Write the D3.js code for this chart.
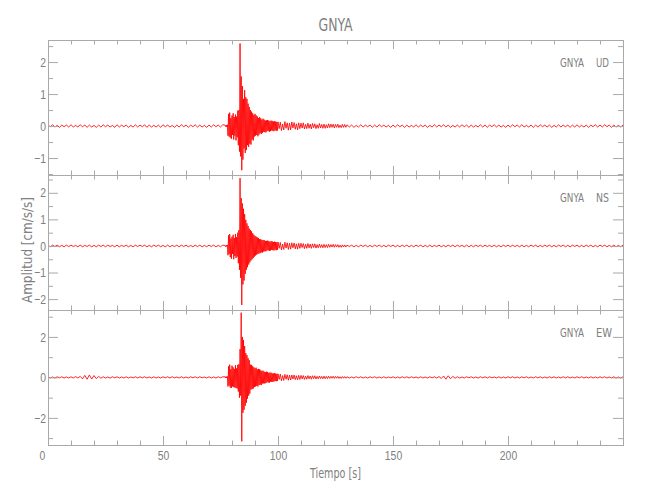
<!DOCTYPE html>
<html><head><meta charset="utf-8">
<script src="https://cdn.jsdelivr.net/npm/d3@7"></script>
<style>
html,body{margin:0;padding:0;background:#fff;}
svg{display:block;font-family:"DejaVu Sans Condensed","Liberation Sans Narrow","Liberation Sans",sans-serif;}
</style></head><body>
<svg id="chart" width="650" height="500"></svg>
<script>
// ---------------- DATA ----------------
const station = "GNYA";
const components = ["UD", "NS", "EW"];
const xLabel = "Tiempo [s]";
const yLabel = "Amplitud [cm/s/s]";
const xMajorTicks = [0, 50, 100, 150, 200];
const xMinorTicks = [10,20,30,40,60,70,80,90,110,120,130,140,160,170,180,190,210,220,230,240];
const xDomain = [0, 250];

const udMajor = [-1, 0, 1, 2], udMinor = [-1.5, -0.5, 0.5, 1.5, 2.5], udDomain = [-1.53, 2.69];
const nsMajor = [-2, -1, 0, 1, 2], nsMinor = [-1.5, -0.5, 0.5, 1.5, 2.5], nsDomain = [-2.41, 2.67];
const ewMajor = [-2, 0, 2], ewMinor = [-3, -1, 1, 3], ewDomain = [-3.34, 3.33];

// sampling of the segments (start time s, step s)
const preStart = 0, preStep = 1;
const eventStart = 77, eventStep = 0.25;
const tailStart = 100, tailStep = 0.5;
const postStart = 130, postStep = 1;

// ---- UD (cm/s/s)
const udPre = [.03,-.02,.04,-.03,.02,-.04,.03,-.02,.03,-.03,
  .04,-.03,.02,-.03,.04,-.02,.03,-.04,.03,-.03,
  .02,-.04,.03,-.03,.04,-.02,.03,-.03,.02,-.04,
  .04,-.03,.03,-.02,.03,-.04,.02,-.03,.04,-.03,
  .03,-.02,.04,-.04,.03,-.03,.02,-.03,.03,-.04,
  .04,-.02,.03,-.03,.02,-.04,.03,-.03,.04,-.02,
  .03,-.04,.03,-.02,.04,-.03,.03,-.03,.02,-.04,
  .03,-.03,.04,-.02,.03,-.03,.04];
const udEvent = [.03,-.02,.03,-.03,.04,-.30,.38,-.33,.42,-.36,.25,-.40,.33,-.28,.40,-.42,.28,-.30,.36,-.45,.30,-.35,.48,-.60,.50,-.80,
  2.58,-.95,1.55,-1.38,1.25,-1.05,.85,-.70,1.12,-.84,.90,-.75,.85,-.60,.70,-.65,.60,-.55,.50,-.58,.45,-.42,.40,-.45,.35,-.33,
  .38,-.30,.33,-.28,.30,-.32,.25,-.27,.28,-.22,.24,-.25,.20,-.22,.23,-.18,.20,-.19,.17,-.20,
  .18,-.16,.19,-.15,.17,-.18,.15,-.16,.17,-.14,.16,-.15,.14,-.16,.15,-.13,.14,-.15,.13,-.14];
const udTail = [.13,-.08,.12,-.14,.06,-.12,.14,-.07,.10,-.13,
  .09,-.12,.13,-.06,.11,-.10,.07,-.12,.10,-.08,
  .09,-.06,.10,-.09,.05,-.08,.09,-.07,.06,-.09,
  .08,-.05,.07,-.08,.04,-.07,.08,-.06,.05,-.07,
  .06,-.07,.04,-.06,.07,-.05,.06,-.04,.06,-.06,
  .05,-.04,.06,-.05,.03,-.05,.05,-.04,.05,-.04];
const udPost = [.04,-.03,.03,-.04,.02,-.03,.04,-.03,.03,-.02,
  .03,-.04,.03,-.03,.04,-.02,.03,-.03,.02,-.04,
  .03,-.03,.04,-.02,.03,-.04,.03,-.03,.02,-.03,
  .04,-.03,.03,-.02,.03,-.04,.02,-.03,.04,-.03,
  .03,-.02,.04,-.03,.03,-.04,.02,-.03,.03,-.03,
  .04,-.02,.03,-.04,.03,-.03,.02,-.03,.04,-.03,
  .03,-.04,.03,-.02,.04,-.03,.03,-.03,.02,-.04,
  .03,-.03,.04,-.02,.03,-.03,.04,-.03,.02,-.03,
  .03,-.04,.03,-.03,.04,-.02,.03,-.03,.03,-.04,
  .02,-.03,.04,-.03,.03,-.02,.03,-.04,.03,-.03,
  .04,-.03,.02,-.03,.03,-.04,.03,-.02,.04,-.03,
  .03,-.03,.04,-.02,.03,-.04,.03,-.03,.02,-.03,
  .03];

// ---- NS (cm/s/s)
const nsPre = [.02,-.03,.03,-.02,.03,-.03,.02,-.03,.03,-.02,
  .03,-.02,.02,-.03,.03,-.03,.02,-.02,.03,-.03,
  .02,-.03,.03,-.02,.03,-.03,.03,-.02,.02,-.03,
  .03,-.03,.02,-.02,.03,-.03,.02,-.03,.03,-.02,
  .03,-.02,.03,-.03,.02,-.03,.03,-.02,.03,-.03,
  .02,-.03,.03,-.03,.02,-.02,.03,-.03,.03,-.02,
  .03,-.03,.02,-.03,.03,-.02,.03,-.03,.02,-.03,
  .03,-.02,.03,-.03,.02,-.03,.03];
const nsEvent = [.02,-.03,.03,-.02,.04,-.35,.40,-.30,.45,-.42,.28,-.48,.35,-.30,.42,-.50,.30,-.38,.45,-.45,.33,-.40,.50,-.65,.60,-.90,
  2.55,-1.20,1.80,-2.22,1.60,-1.45,1.40,-1.30,1.20,-1.05,.98,-.90,.85,-.80,.75,-.70,.65,-.62,.60,-.55,.55,-.50,.48,-.45,.42,-.40,
  .38,-.36,.35,-.33,.32,-.30,.30,-.28,.26,-.27,.25,-.24,.23,-.25,.22,-.21,.22,-.20,.19,-.20,
  .19,-.17,.20,-.16,.18,-.19,.16,-.17,.18,-.15,.17,-.16,.15,-.17,.16,-.14,.15,-.16,.14,-.15];
const nsTail = [.15,-.09,.13,-.15,.07,-.13,.14,-.08,.12,-.13,
  .10,-.12,.12,-.07,.11,-.11,.08,-.12,.10,-.09,
  .10,-.06,.09,-.10,.06,-.09,.09,-.07,.07,-.09,
  .08,-.06,.08,-.08,.05,-.07,.07,-.06,.05,-.07,
  .06,-.06,.05,-.06,.06,-.05,.05,-.04,.06,-.05,
  .05,-.04,.05,-.05,.03,-.05,.04,-.04,.04,-.04];
const nsPost = [.03,-.02,.03,-.03,.02,-.03,.03,-.02,.03,-.03,
  .02,-.03,.03,-.02,.03,-.03,.02,-.03,.03,-.02,
  .03,-.03,.02,-.03,.03,-.02,.03,-.03,.02,-.03,
  .03,-.02,.03,-.03,.02,-.03,.03,-.03,.02,-.02,
  .03,-.03,.02,-.03,.03,-.02,.03,-.03,.03,-.02,
  .02,-.03,.03,-.03,.02,-.03,.03,-.02,.03,-.03,
  .03,-.02,.02,-.03,.03,-.03,.02,-.03,.03,-.02,
  .03,-.03,.03,-.02,.02,-.03,.03,-.03,.02,-.03,
  .03,-.02,.03,-.03,.02,-.03,.03,-.02,.03,-.03,
  .02,-.03,.03,-.02,.03,-.03,.02,-.03,.03,-.02,
  .03,-.03,.02,-.03,.03,-.02,.03,-.03,.02,-.03,
  .03,-.02,.03,-.03,.02,-.03,.03,-.03,.02,-.03,
  .03];

// ---- EW (cm/s/s)
const ewPre = [.03,-.03,.02,-.03,.03,-.02,.03,-.03,.02,-.03,
  .03,-.03,.04,-.03,.05,-.07,.10,-.09,.12,-.08,
  .09,-.06,.05,-.04,.03,-.03,.02,-.03,.03,-.02,
  .03,-.03,.02,-.03,.03,-.03,.02,-.02,.03,-.03,
  .03,-.02,.03,-.03,.02,-.03,.03,-.03,.02,-.03,
  .03,-.02,.03,-.03,.03,-.02,.02,-.03,.03,-.03,
  .02,-.03,.03,-.02,.03,-.03,.03,-.02,.02,-.03,
  .03,-.03,.02,-.03,.03,-.02,.03];
const ewEvent = [.03,-.03,.04,-.03,.05,-.45,.55,-.40,.63,-.50,.40,-.52,.58,-.45,.50,-.48,.42,-.50,.60,-.52,.45,-.55,.62,-.70,.65,-1.00,
  1.40,-.90,3.20,-3.16,2.00,-1.75,1.85,-1.60,1.55,-1.40,1.20,-1.25,1.10,-1.05,.95,-.90,.85,-.80,.63,-.60,.62,-.58,.55,-.55,.50,-.48,
  .45,-.45,.48,-.42,.40,-.45,.42,-.38,.40,-.36,.35,-.38,.32,-.30,.33,-.30,.28,-.30,.27,-.28,
  .28,-.24,.27,-.25,.22,-.26,.24,-.21,.23,-.22,.20,-.22,.19,-.20,.21,-.18,.19,-.19,.17,-.18];
const ewTail = [.18,-.10,.16,-.17,.09,-.15,.15,-.09,.13,-.14,
  .11,-.13,.12,-.08,.12,-.11,.08,-.12,.10,-.10,
  .10,-.07,.09,-.10,.06,-.09,.09,-.07,.07,-.09,
  .08,-.06,.08,-.08,.05,-.07,.07,-.06,.05,-.07,
  .06,-.06,.05,-.06,.06,-.05,.05,-.04,.06,-.05,
  .05,-.04,.05,-.05,.03,-.05,.04,-.04,.04,-.04];
const ewPost = [.03,-.03,.02,-.03,.03,-.02,.03,-.03,.02,-.03,
  .03,-.02,.03,-.03,.02,-.03,.03,-.03,.02,-.02,
  .03,-.03,.02,-.03,.03,-.02,.03,-.03,.03,-.02,
  .02,-.03,.03,-.03,.02,-.03,.03,-.02,.03,-.03,
  .04,-.05,.07,-.09,.08,-.07,.05,-.04,.03,-.03,
  .02,-.03,.03,-.02,.03,-.03,.02,-.03,.03,-.02,
  .03,-.03,.03,-.02,.02,-.03,.03,-.03,.02,-.03,
  .03,-.02,.03,-.03,.02,-.03,.03,-.02,.03,-.03,
  .02,-.03,.03,-.02,.03,-.03,.02,-.03,.03,-.02,
  .03,-.03,.02,-.03,.03,-.02,.03,-.03,.02,-.03,
  .03,-.02,.03,-.03,.02,-.03,.03,-.03,.02,-.03,
  .03,-.02,.03,-.03,.02,-.03,.03,-.03,.02,-.03,
  .03];

// ---------------- CHART ----------------
const traces = [
  {comp: components[0], segs: [udPre, udEvent, udTail, udPost], major: udMajor, minor: udMinor, domain: udDomain},
  {comp: components[1], segs: [nsPre, nsEvent, nsTail, nsPost], major: nsMajor, minor: nsMinor, domain: nsDomain},
  {comp: components[2], segs: [ewPre, ewEvent, ewTail, ewPost], major: ewMajor, minor: ewMinor, domain: ewDomain}
];
const segTiming = [[preStart, preStep], [eventStart, eventStep], [tailStart, tailStep], [postStart, postStep]];

(function draw() {
  const plotL = 48, plotR = 623, plotT = 40, panelH = 135;
  const axisColor = "#a9a9a9", textColor = "#808080";
  const compWidth = {UD: 13, NS: 13, EW: 16};
  const squeeze = 0.8;
  const svg = d3.select("#chart");

  const x = d3.scaleLinear().domain(xDomain).range([plotL, plotR]);

  svg.append("text").attr("x", (plotL + plotR) / 2).attr("y", 31).attr("text-anchor", "middle")
    .attr("font-size", 18).attr("fill", textColor)
    .attr("textLength", 34).attr("lengthAdjust", "spacingAndGlyphs").text(station);

  function styleAxis(g) {
    g.select(".domain").remove();
    g.selectAll(".tick line").attr("stroke", axisColor).attr("stroke-width", 1);
    g.selectAll(".tick text").attr("fill", textColor).attr("font-size", 13)
      .attr("font-family", null)
      .attr("x", function () { return (+this.getAttribute("x") || 0) / squeeze; })
      .attr("transform", `scale(${squeeze},1)`);
  }

  traces.forEach((tr, i) => {
    const y0 = plotT + i * panelH, y1 = y0 + panelH;
    const y = d3.scaleLinear().domain(tr.domain).range([y1, y0]);
    const g = svg.append("g");

    const pts = [];
    tr.segs.forEach((arr, k) => {
      const [t0, dt] = segTiming[k];
      arr.forEach((v, j) => pts.push([t0 + j * dt, v]));
    });
    const line = d3.line().x(d => x(d[0])).y(d => y(d[1]));
    g.append("path").datum(pts).attr("d", line).attr("fill", "none")
      .attr("stroke", "#ff0000").attr("stroke-width", 0.85).attr("stroke-linejoin", "round");

    g.append("g").attr("transform", `translate(${plotL},0)`)
      .call(d3.axisLeft(y).tickValues(tr.major).tickSize(-10).tickPadding(2).tickFormat(d3.format("d"))).call(styleAxis);
    g.append("g").attr("transform", `translate(${plotL},0)`)
      .call(d3.axisLeft(y).tickValues(tr.minor).tickSize(-5).tickFormat("")).call(styleAxis);
    g.append("g").attr("transform", `translate(${plotR},0)`)
      .call(d3.axisRight(y).tickValues(tr.major).tickSize(-10).tickFormat("")).call(styleAxis);
    g.append("g").attr("transform", `translate(${plotR},0)`)
      .call(d3.axisRight(y).tickValues(tr.minor).tickSize(-5).tickFormat("")).call(styleAxis);

    g.append("g").attr("transform", `translate(0,${y0})`)
      .call(d3.axisTop(x).tickValues(xMajorTicks).tickSize(-9).tickFormat("")).call(styleAxis);
    g.append("g").attr("transform", `translate(0,${y0})`)
      .call(d3.axisTop(x).tickValues(xMinorTicks).tickSize(-4.5).tickFormat("")).call(styleAxis);
    const isLast = i === traces.length - 1;
    const bottomAxis = g.append("g").attr("transform", `translate(0,${y1})`)
      .call(d3.axisBottom(x).tickValues(xMajorTicks).tickSize(-9).tickPadding(6)
        .tickFormat(isLast ? d3.format("d") : "")).call(styleAxis);
    bottomAxis.selectAll(".tick text").filter(d => d === 0).attr("dx", -6 / squeeze);
    g.append("g").attr("transform", `translate(0,${y1})`)
      .call(d3.axisBottom(x).tickValues(xMinorTicks).tickSize(-4.5).tickFormat("")).call(styleAxis);

    g.append("rect").attr("x", plotL + 0.5).attr("y", y0 + 0.5).attr("width", plotR - plotL).attr("height", panelH)
      .attr("fill", "none").attr("stroke", axisColor).attr("stroke-width", 1);

    g.append("text").attr("x", 584).attr("y", y0 + 27).attr("text-anchor", "end")
      .attr("font-size", 13).attr("fill", textColor)
      .attr("textLength", 24).attr("lengthAdjust", "spacingAndGlyphs").text(station);
    g.append("text").attr("x", 596).attr("y", y0 + 27).attr("text-anchor", "start")
      .attr("font-size", 13).attr("fill", textColor)
      .attr("textLength", compWidth[tr.comp]).attr("lengthAdjust", "spacingAndGlyphs").text(tr.comp);
  });

  svg.append("text").attr("x", (plotL + plotR) / 2).attr("y", 478).attr("text-anchor", "middle")
    .attr("font-size", 14).attr("fill", textColor)
    .attr("textLength", 51).attr("lengthAdjust", "spacingAndGlyphs").text(xLabel);
  svg.append("text").attr("transform", "translate(32,250) rotate(-90)").attr("text-anchor", "middle")
    .attr("font-size", 13.5).attr("fill", textColor)
    .attr("textLength", 106).attr("lengthAdjust", "spacingAndGlyphs").text(yLabel);
})();
</script>
</body></html>
